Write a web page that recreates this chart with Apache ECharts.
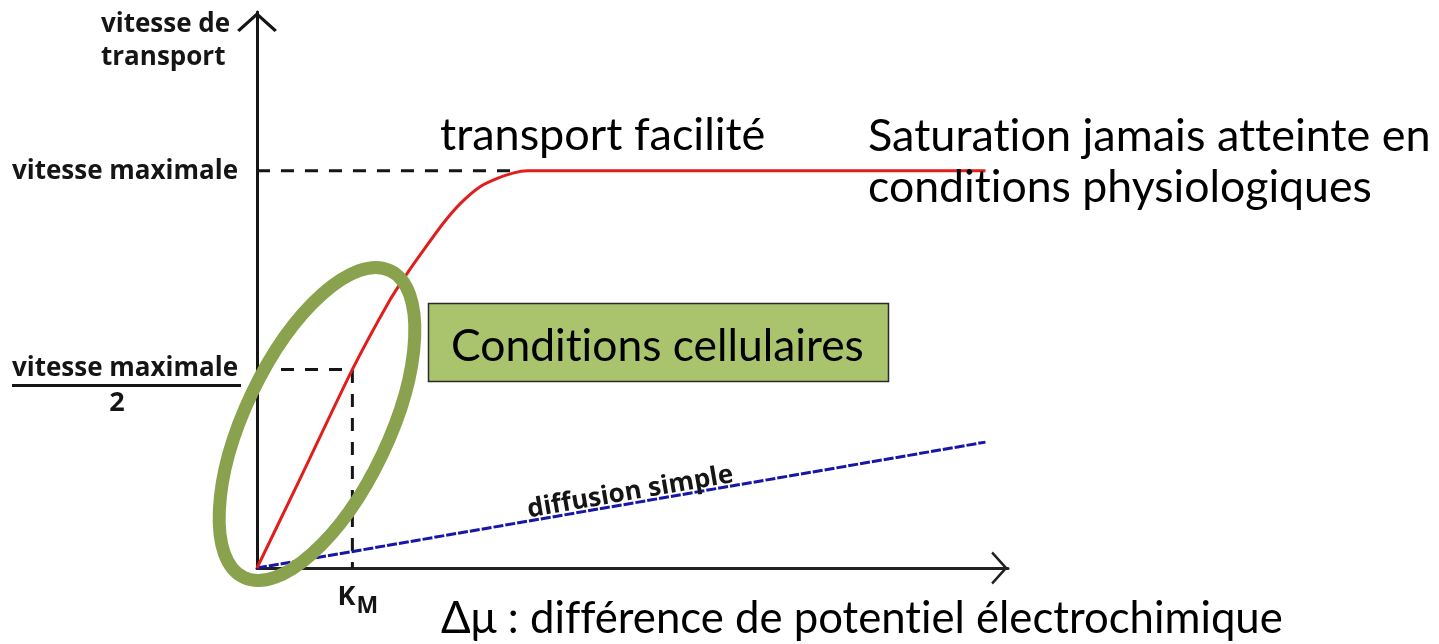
<!DOCTYPE html>
<html>
<head>
<meta charset="utf-8">
<script src="https://cdn.jsdelivr.net/npm/echarts@6/dist/echarts.min.js"></script>
<style>
  html, body { margin: 0; padding: 0; background: #ffffff; }
  #chart { width: 1439px; height: 644px; }
</style>
</head>
<body>
<div id="chart"></div>
<script>
// Facilitated transport (saturating) vs simple diffusion (linear)
const facilitatedX = [0, 0.6, 1.27, 1.77, 2.0, 2.22, 2.48, 2.71, 2.97, 3.2, 3.42, 3.6, 9.7];
const facilitatedY = [0, 0.235, 0.5, 0.675, 0.742, 0.801, 0.868, 0.918, 0.96, 0.981, 0.995, 1, 1];
const diffusionX = [0, 9.7];
const diffusionY = [0, 0.317];
const vMax = 1;           // vitesse maximale
const kM = 1.27;          // concentration giving vMax / 2
const saturationX = 3.42; // where the curve reaches the plateau

const axisMax = { x: 10, y: 1.4 };

const pairs = (xs, ys) => xs.map((x, i) => [x, ys[i]]);

// plain glyphs, no "ti"/"tt" ligatures in canvas text
(function () {
  const proto = CanvasRenderingContext2D.prototype;
  const orig = proto.fillText;
  proto.fillText = function () {
    if ('textRendering' in this) this.textRendering = 'optimizeSpeed';
    return orig.apply(this, arguments);
  };
})();

const chart = echarts.init(document.getElementById('chart'), null, { renderer: 'canvas' });

// open chevron used as the axis arrowhead (tip at the top of the path)
const chevron = 'path://M0,18 L20,0 L40,18 L37.5,20 L20,4.2 L2.5,20 Z';

const ink = '#151515';
const sideFont = '"Open Sans", "DejaVu Sans", sans-serif';
const bodyFont = 'Lato, "Open Sans", sans-serif';

chart.setOption({
  animation: false,
  backgroundColor: '#ffffff',
  grid: { left: 257, right: 431, top: 12, bottom: 76, containLabel: false },
  xAxis: {
    type: 'value', min: 0, max: axisMax.x,
    splitLine: { show: false }, axisTick: { show: false }, axisLabel: { show: false },
    axisLine: {
      show: true, onZero: false,
      lineStyle: { color: '#222', width: 3 },
      symbol: ['none', chevron], symbolSize: [33, 17], symbolOffset: [0, -8.5]
    }
  },
  yAxis: {
    type: 'value', min: 0, max: axisMax.y,
    splitLine: { show: false }, axisTick: { show: false }, axisLabel: { show: false },
    axisLine: {
      show: true, onZero: false,
      lineStyle: { color: ink, width: 3 },
      symbol: ['none', chevron], symbolSize: [40, 20], symbolOffset: [0, -10]
    }
  },
  series: [
    {
      name: 'guide-vmax', type: 'line', showSymbol: false, silent: true, z: 1,
      data: [[0, vMax], [saturationX, vMax]],
      lineStyle: { color: ink, width: 3, type: [13, 11] }
    },
    {
      name: 'guide-km', type: 'line', showSymbol: false, silent: true, z: 1,
      data: [[0, vMax / 2], [kM, vMax / 2], [kM, 0]],
      lineStyle: { color: ink, width: 3, type: [13, 11] }
    },
    {
      name: 'diffusion simple', type: 'line', showSymbol: false, silent: true, z: 3,
      data: pairs(diffusionX, diffusionY),
      lineStyle: { color: '#1616a8', width: 3, type: [10, 2] }
    },
    {
      name: 'transport facilité', type: 'line', showSymbol: false, silent: true, z: 4,
      smooth: 0.2,
      data: pairs(facilitatedX, facilitatedY),
      lineStyle: { color: '#e01f1c', width: 3 }
    }
  ]
});

const px = (x, y) => chart.convertToPixel({ gridIndex: 0 }, [x, y]);

const pVmax = px(0, vMax);
const pHalf = px(0, vMax / 2);
const pKm = px(kM, 0);
const pD0 = px(diffusionX[0], diffusionY[0]);
const pD1 = px(diffusionX[1], diffusionY[1]);
const slopeAngle = Math.atan2(pD0[1] - pD1[1], pD1[0] - pD0[0]);
const t = 0.515;
const dMid = [pD0[0] + (pD1[0] - pD0[0]) * t, pD0[1] + (pD1[1] - pD0[1]) * t];
const lift = 11; // distance of the label centre above the line
const dLabel = [dMid[0] - Math.sin(slopeAngle) * lift, dMid[1] - Math.cos(slopeAngle) * lift];

function text(str, x, y, opts) {
  const o = Object.assign({ size: 26, weight: 700, family: sideFont, align: 'left', v: 'middle', fill: ink }, opts || {});
  return {
    type: 'text', z: 50, x: x, y: y, rotation: o.rotation || 0, silent: true,
    style: {
      text: str, fill: o.fill,
      fontSize: o.size, fontWeight: o.weight, fontFamily: o.family,
      align: o.align, verticalAlign: o.v,
      textAlign: o.align, textVerticalAlign: o.v
    }
  };
}

const body = { family: bodyFont, weight: 400, size: 45, fill: '#000' };

chart.setOption({
  graphic: [
    // axis titles
    text('vitesse de', 101, 25),
    text('transport', 101, 58),
    // vitesse maximale at the plateau level
    text('vitesse maximale', 238, pVmax[1] + 1, { align: 'right' }),
    // vitesse maximale / 2
    text('vitesse maximale', 238, pHalf[1] - 1, { align: 'right' }),
    { type: 'line', z: 50, silent: true,
      shape: { x1: 12, y1: pHalf[1] + 16, x2: 241, y2: pHalf[1] + 16 },
      style: { stroke: ink, lineWidth: 3 } },
    text('2', 117, pHalf[1] + 34, { align: 'center', size: 27 }),
    // K_M under the axis
    text('K', pKm[0] - 6, pKm[1] + 29, { align: 'center', size: 27, weight: 700 }),
    text('M', pKm[0] + 15, pKm[1] + 38, { align: 'center', size: 23, weight: 700 }),
    // label along the diffusion line
    text('diffusion simple', dLabel[0], dLabel[1], { align: 'center', size: 26, rotation: slopeAngle }),
    // annotations
    text('transport facilité', 440, 135, body),
    text('Saturation jamais atteinte en', 868, 136, body),
    text('conditions physiologiques', 868, 188, Object.assign({}, body, { size: 44.6 })),
    {
      type: 'rect', z: 40, silent: true,
      shape: { x: 428.5, y: 303.5, width: 460, height: 78 },
      style: { fill: '#a9c46d', stroke: '#2b2b2b', lineWidth: 1.5 }
    },
    text('Conditions cellulaires', 451, 347, Object.assign({}, body, { size: 44.4 })),
    text('Δμ : différence de potentiel électrochimique', 441, 619, Object.assign({}, body, { size: 43.7 })),
    // highlighted region near the origin
    {
      type: 'ellipse', z: 60, silent: true,
      x: 317, y: 424, rotation: 1.126,
      shape: { cx: 0, cy: 0, rx: 170, ry: 72 },
      style: { fill: 'none', stroke: '#8aa24d', lineWidth: 13 }
    }
  ]
});
</script>
</body>
</html>
